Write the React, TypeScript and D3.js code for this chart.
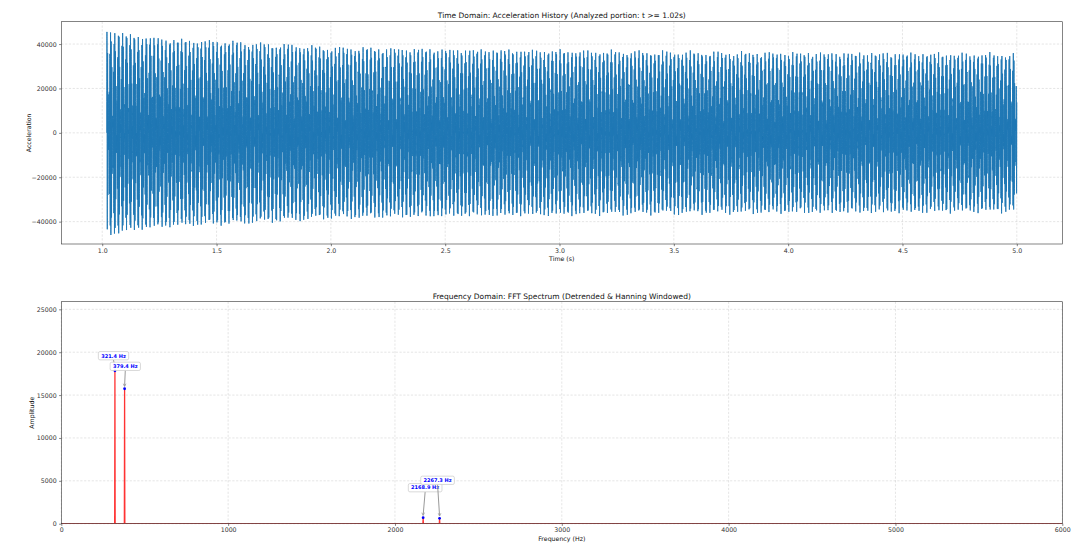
import * as React from 'react';
import * as d3 from 'd3';

const dimensions = { width: 1080, height: 554 };

const timePanel = { left: 61.3, right: 1062.3, top: 21.7, bottom: 244 };
const freqPanel = { left: 61.3, right: 1062.3, top: 301.7, bottom: 523.7 };

// spectral peaks
const peakFreqs = [321.4, 379.4, 2168.9, 2267.3];
const peakAmps = [17840, 15740, 700, 630];
const peakLabels = ['321.4 Hz', '379.4 Hz', '2168.9 Hz', '2267.3 Hz'];

// upper envelope of the acceleration trace, read at a few times
const envelopeTimes = [1.02, 1.05, 1.1, 1.2, 1.3, 1.5, 1.75, 2.0, 2.5, 3.0, 3.5, 4.0, 4.5, 5.0];
const envelopePeaks = [45500, 45200, 44000, 42500, 41500, 40800, 39500, 38000, 37000, 36500, 36000, 35500, 35300, 35000];

const timeTicks = [1.0, 1.5, 2.0, 2.5, 3.0, 3.5, 4.0, 4.5, 5.0];
const accelTicks = [-40000, -20000, 0, 20000, 40000];
const freqTicks = [0, 1000, 2000, 3000, 4000, 5000, 6000];
const ampTicks = [0, 5000, 10000, 15000, 20000, 25000];

// label box offsets from each peak, in px
const labelOffsets = [
  { dx: -1.4, dy: -15 },
  { dx: 0.7, dy: -22.4 },
  { dx: 2, dy: -30 },
  { dx: -2, dy: -38 },
];

const startTime = 1.02;
const endTime = 5.0;
const sampleRate = 16000;
// sampled tones rarely line up exactly, so lift the envelope a little
const peakReach = 1.04;

const font = '"DejaVu Sans", sans-serif';
const tickFont = 6.25;
const titleFont = 7.5;

const App: React.FC = () => {
  const xTime = d3.scaleLinear([0.821, 5.199], [timePanel.left, timePanel.right]);
  const yAccel = d3.scaleLinear([-50070, 50070], [timePanel.bottom, timePanel.top]);
  const xFreq = d3.scaleLinear([0, 6000], [freqPanel.left, freqPanel.right]);
  const yAmp = d3.scaleLinear([0, 25890], [freqPanel.bottom, freqPanel.top]);

  // trace rebuilt from the peak tones, scaled to the envelope
  const tracePath = React.useMemo(() => {
    const envelope = d3.scaleLinear(envelopeTimes, envelopePeaks);
    const total = d3.sum(peakAmps);
    const samples = d3.range(startTime, endTime, 1 / sampleRate).map((t) => {
      const e = envelope(t) * peakReach;
      const v = d3.sum(peakFreqs, (f, i) =>
        (e * peakAmps[i]) / total * Math.sin(2 * Math.PI * f * (t - startTime))
      );
      return [t, v] as [number, number];
    });
    return d3
      .line<[number, number]>()
      .x((d) => xTime(d[0]))
      .y((d) => yAccel(d[1]))(samples);
  }, []);

  const spectrumPoints: [number, number][] = [[0, 0]];
  peakFreqs.forEach((f, i) => {
    spectrumPoints.push([f - 1.5, 0], [f, peakAmps[i]], [f + 1.5, 0]);
  });
  spectrumPoints.push([6000, 0]);
  const spectrumPath = d3
    .line<[number, number]>()
    .x((d) => xFreq(d[0]))
    .y((d) => yAmp(d[1]))(spectrumPoints);

  const xTimeRef = React.useRef<SVGGElement>(null);
  const yAccelRef = React.useRef<SVGGElement>(null);
  const xFreqRef = React.useRef<SVGGElement>(null);
  const yAmpRef = React.useRef<SVGGElement>(null);

  React.useEffect(() => {
    const style = (g: d3.Selection<SVGGElement, unknown, null, undefined>) => {
      g.attr('font-family', font).attr('font-size', tickFont).attr('fill', '#333');
      g.select('.domain').remove();
      g.selectAll('.tick line').attr('stroke', '#333').attr('stroke-width', 0.6);
      g.selectAll('.tick text').attr('fill', '#333');
    };
    d3.select(xTimeRef.current!)
      .call(d3.axisBottom(xTime).tickValues(timeTicks).tickFormat(d3.format('.1f')).tickSize(2.2).tickPadding(2))
      .call(style);
    d3.select(yAccelRef.current!)
      .call(d3.axisLeft(yAccel).tickValues(accelTicks).tickFormat(d3.format('d')).tickSize(2.2).tickPadding(2.4))
      .call(style);
    d3.select(xFreqRef.current!)
      .call(d3.axisBottom(xFreq).tickValues(freqTicks).tickFormat(d3.format('d')).tickSize(2.2).tickPadding(2))
      .call(style);
    d3.select(yAmpRef.current!)
      .call(d3.axisLeft(yAmp).tickValues(ampTicks).tickFormat(d3.format('d')).tickSize(2.2).tickPadding(2.4))
      .call(style);
  }, []);

  const gridStyle = {
    stroke: '#b0b0b0',
    strokeWidth: 0.6,
    strokeDasharray: '2.2,1.6',
    strokeOpacity: 0.55,
  };

  return (
    <svg
      width={dimensions.width}
      height={dimensions.height}
      viewBox={`0 0 ${dimensions.width} ${dimensions.height}`}
      style={{ position: 'absolute', left: 0, top: 0, background: '#fff' }}
    >
      <defs>
        <clipPath id="freq-clip">
          <rect
            x={freqPanel.left}
            y={freqPanel.top}
            width={freqPanel.right - freqPanel.left}
            height={freqPanel.bottom - freqPanel.top}
          />
        </clipPath>
      </defs>

      {/* time domain */}
      <g>
        {timeTicks.map((t) => (
          <line key={t} x1={xTime(t)} x2={xTime(t)} y1={timePanel.top} y2={timePanel.bottom} style={gridStyle} />
        ))}
        {accelTicks.map((v) => (
          <line key={v} x1={timePanel.left} x2={timePanel.right} y1={yAccel(v)} y2={yAccel(v)} style={gridStyle} />
        ))}
        <path d={tracePath ?? ''} fill="none" stroke="#1f77b4" strokeWidth={0.95} />
        <rect
          x={timePanel.left}
          y={timePanel.top}
          width={timePanel.right - timePanel.left}
          height={timePanel.bottom - timePanel.top}
          fill="none"
          stroke="#333"
          strokeWidth={0.6}
        />
        <g ref={xTimeRef} transform={`translate(0, ${timePanel.bottom})`} />
        <g ref={yAccelRef} transform={`translate(${timePanel.left}, 0)`} />
        <text
          x={(timePanel.left + timePanel.right) / 2}
          y={18.3}
          textAnchor="middle"
          fontFamily={font}
          fontSize={titleFont}
          fill="#111"
        >
          Time Domain: Acceleration History (Analyzed portion: t &gt;= 1.02s)
        </text>
        <text
          x={(timePanel.left + timePanel.right) / 2}
          y={261}
          textAnchor="middle"
          fontFamily={font}
          fontSize={tickFont}
          fill="#111"
        >
          Time (s)
        </text>
        <text
          transform={`translate(30.5, ${(timePanel.top + timePanel.bottom) / 2}) rotate(-90)`}
          textAnchor="middle"
          fontFamily={font}
          fontSize={tickFont}
          fill="#111"
        >
          Acceleration
        </text>
      </g>

      {/* frequency domain */}
      <g>
        {freqTicks.map((f) => (
          <line key={f} x1={xFreq(f)} x2={xFreq(f)} y1={freqPanel.top} y2={freqPanel.bottom} style={gridStyle} />
        ))}
        {ampTicks.map((v) => (
          <line key={v} x1={freqPanel.left} x2={freqPanel.right} y1={yAmp(v)} y2={yAmp(v)} style={gridStyle} />
        ))}
        <g clipPath="url(#freq-clip)">
          <path d={spectrumPath ?? ''} fill="none" stroke="red" strokeOpacity={0.8} strokeWidth={1.3} />
        </g>
        {peakFreqs.map((f, i) => (
          <circle key={f} cx={xFreq(f)} cy={yAmp(peakAmps[i])} r={1.4} fill="blue" />
        ))}
        <rect
          x={freqPanel.left}
          y={freqPanel.top}
          width={freqPanel.right - freqPanel.left}
          height={freqPanel.bottom - freqPanel.top}
          fill="none"
          stroke="#333"
          strokeWidth={0.6}
        />
        {peakFreqs.map((f, i) => {
          const px = xFreq(f);
          const py = yAmp(peakAmps[i]);
          const cx = px + labelOffsets[i].dx;
          const cy = py + labelOffsets[i].dy;
          const w = peakLabels[i].length * 3.35 + 3.5;
          const h = 8.3;
          return (
            <g key={f}>
              <line x1={cx} y1={cy + h / 2} x2={px} y2={py - 2.5} stroke="#999" strokeWidth={1} />
              <path
                d={`M${px - 1.3},${py - 5} L${px},${py - 2.2} L${px + 1.3},${py - 5}`}
                fill="none"
                stroke="#999"
                strokeWidth={0.8}
              />
              <rect
                x={cx - w / 2}
                y={cy - h / 2}
                width={w}
                height={h}
                rx={1.6}
                fill="#fff"
                fillOpacity={0.9}
                stroke="#c8c8c8"
                strokeWidth={0.7}
              />
              <text
                x={cx}
                y={cy + 1.8}
                textAnchor="middle"
                fontFamily={font}
                fontSize={5}
                fontWeight="bold"
                fill="blue"
              >
                {peakLabels[i]}
              </text>
            </g>
          );
        })}
        <g ref={xFreqRef} transform={`translate(0, ${freqPanel.bottom})`} />
        <g ref={yAmpRef} transform={`translate(${freqPanel.left}, 0)`} />
        <text
          x={(freqPanel.left + freqPanel.right) / 2}
          y={299}
          textAnchor="middle"
          fontFamily={font}
          fontSize={titleFont}
          fill="#111"
        >
          Frequency Domain: FFT Spectrum (Detrended &amp; Hanning Windowed)
        </text>
        <text
          x={(freqPanel.left + freqPanel.right) / 2}
          y={540.5}
          textAnchor="middle"
          fontFamily={font}
          fontSize={tickFont}
          fill="#111"
        >
          Frequency (Hz)
        </text>
        <text
          transform={`translate(34, ${(freqPanel.top + freqPanel.bottom) / 2}) rotate(-90)`}
          textAnchor="middle"
          fontFamily={font}
          fontSize={tickFont}
          fill="#111"
        >
          Amplitude
        </text>
      </g>
    </svg>
  );
};

export default App;
